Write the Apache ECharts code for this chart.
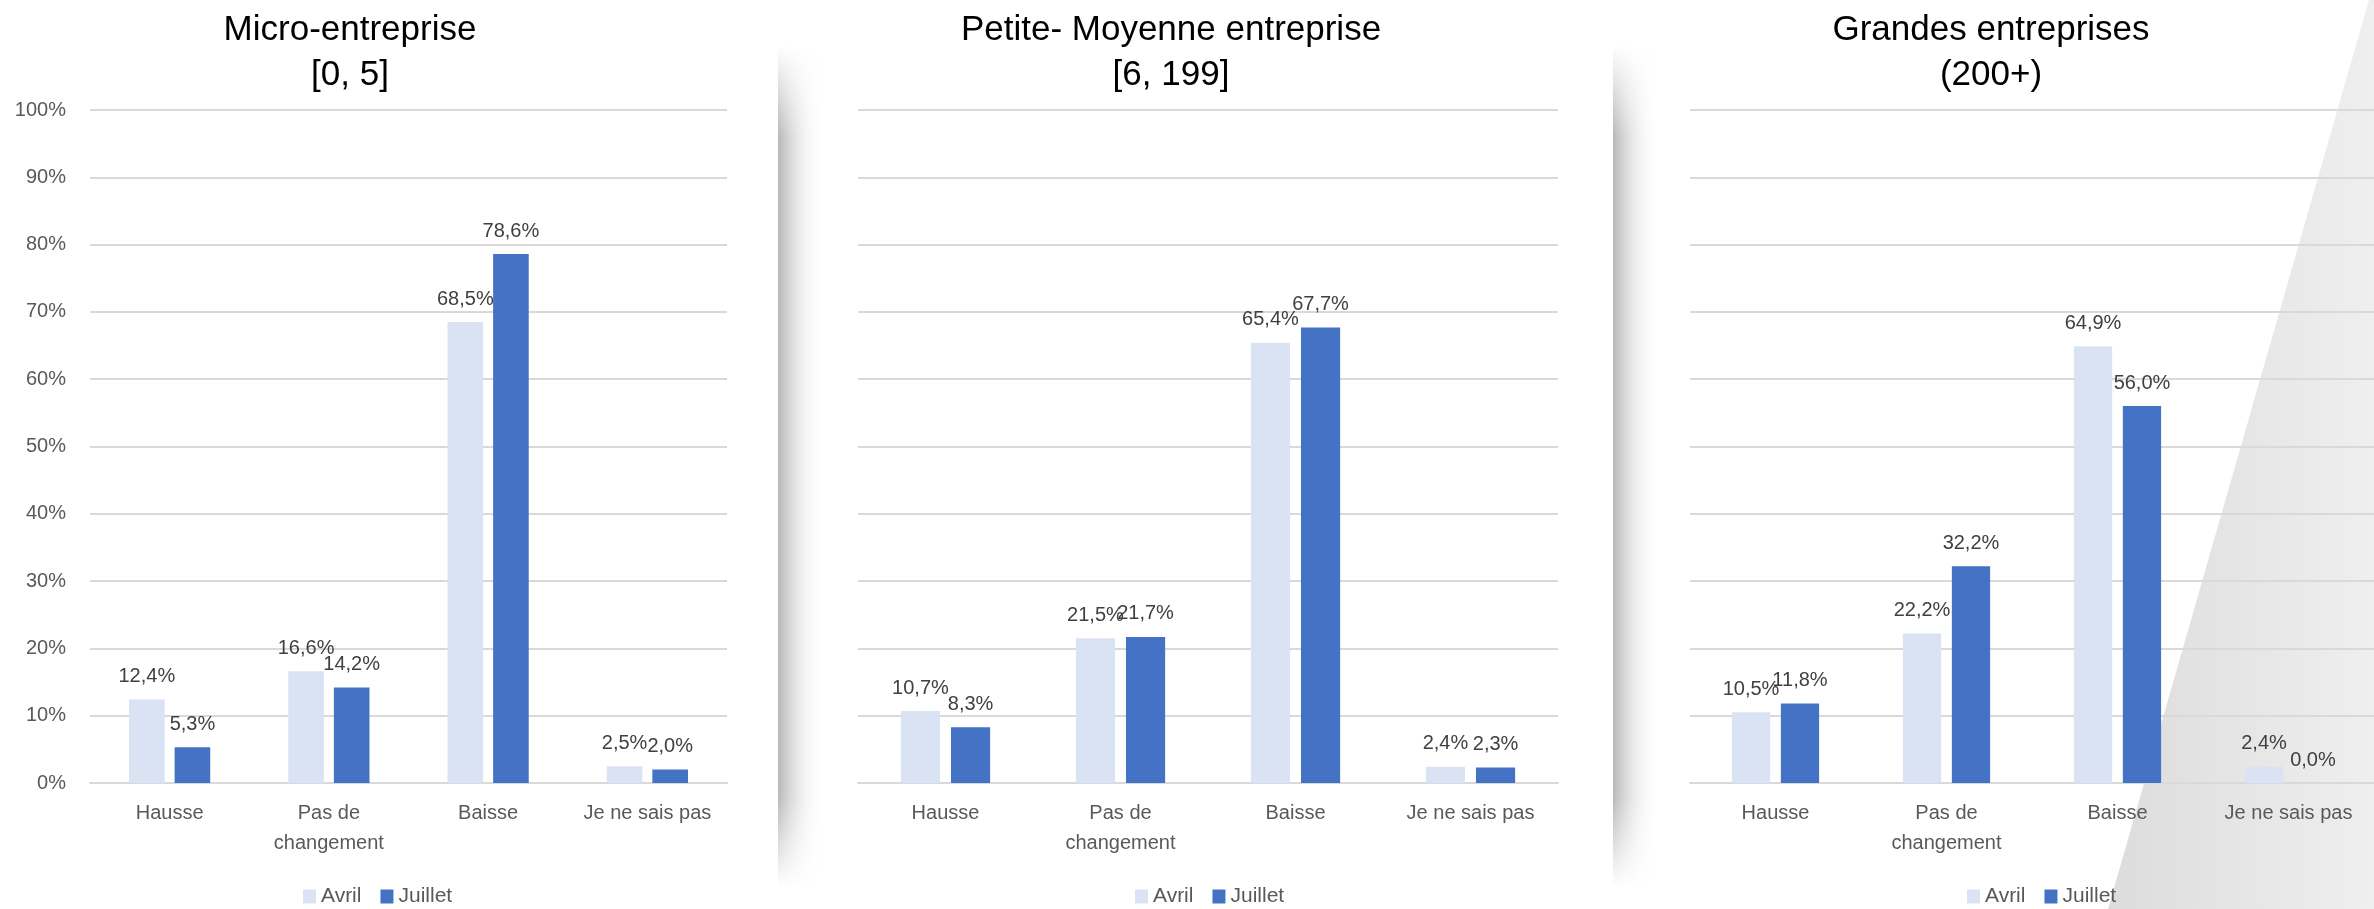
<!DOCTYPE html>
<html>
<head>
<meta charset="utf-8">
<script src="https://cdn.jsdelivr.net/npm/echarts@6/dist/echarts.min.js"></script>
<style>
html,body{margin:0;padding:0;background:#fff;}
#chart{width:2374px;height:909px;}
</style>
</head>
<body>
<div id="chart"></div>
<script>
// ---- data ----
const categories = ['Hausse', 'Pas de changement', 'Baisse', 'Je ne sais pas'];
const seriesNames = ['Avril', 'Juillet'];
const panelTitles = ['Micro-entreprise\n[0, 5]', 'Petite- Moyenne entreprise\n[6, 199]', 'Grandes entreprises\n(200+)'];
const yTicks = [0, 10, 20, 30, 40, 50, 60, 70, 80, 90, 100];
const microAvril = [12.4, 16.6, 68.5, 2.5];
const microJuillet = [5.3, 14.2, 78.6, 2.0];
const pmeAvril = [10.7, 21.5, 65.4, 2.4];
const pmeJuillet = [8.3, 21.7, 67.7, 2.3];
const grandesAvril = [10.5, 22.2, 64.9, 2.4];
const grandesJuillet = [11.8, 32.2, 56.0, 0.0];

const panelData = [
  [microAvril, microJuillet],
  [pmeAvril, pmeJuillet],
  [grandesAvril, grandesJuillet]
];

// ---- layout / style ----
const FONT = 'Liberation Sans, Arial, sans-serif';
const colors = ['#DAE3F3', '#4472C4'];
const grids = [
  {left: 90, width: 637, top: 110, height: 673},
  {left: 858, width: 700, top: 110, height: 673},
  {left: 1690, width: 700, top: 110, height: 673}
];
const titleCenters = [350, 1171, 1991];
const legendLefts = [303, 1135, 1967];

const fmt = v => v.toFixed(1).replace('.', ',') + '%';

const xAxes = grids.map((g, i) => ({
  type: 'category', gridIndex: i, data: categories,
  axisLine: {show: true, lineStyle: {color: '#D9D9D9', width: 2}},
  axisTick: {show: false},
  axisLabel: {
    color: '#595959', fontSize: 20, fontFamily: FONT, margin: 15, lineHeight: 30,
    interval: 0,
    formatter: v => v.replace('Pas de ', 'Pas de\n')
  }
}));
const yAxes = grids.map((g, i) => ({
  type: 'value', gridIndex: i, min: yTicks[0], max: yTicks[yTicks.length - 1], interval: yTicks[1] - yTicks[0],
  axisLine: {show: false}, axisTick: {show: false},
  splitLine: {show: true, lineStyle: {color: '#D9D9D9', width: 2}},
  axisLabel: {show: i === 0, color: '#595959', fontSize: 20, fontFamily: FONT, margin: 24, formatter: '{value}%'}
}));

const series = [];
panelData.forEach((pair, i) => {
  pair.forEach((vals, s) => {
    series.push({
      name: seriesNames[s], type: 'bar', xAxisIndex: i, yAxisIndex: i,
      data: vals,
      barGap: '28%', barCategoryGap: '49%',
      itemStyle: {color: colors[s]},
      label: {
        show: true, position: 'top', distance: 13,
        color: '#404040', fontSize: 20, fontFamily: FONT,
        formatter: p => fmt(p.value)
      }
    });
  });
});

const legends = legendLefts.map(l => ({
  data: seriesNames, left: l, top: 886, padding: 0,
  itemWidth: 13, itemHeight: 14, itemGap: 19, icon: 'rect',
  textStyle: {color: '#595959', fontSize: 21, fontFamily: FONT, padding: [0, 0, 0, 0]}
}));

const shadowGrad = {
  type: 'linear', x: 0, y: 0, x2: 1, y2: 0,
  colorStops: [
    {offset: 0, color: 'rgba(180,180,180,0.95)'},
    {offset: 0.35, color: 'rgba(205,205,205,0.6)'},
    {offset: 1, color: 'rgba(255,255,255,0)'}
  ]
};
const fadeTop = {
  type: 'linear', x: 0, y: 0, x2: 0, y2: 1,
  colorStops: [{offset: 0, color: 'rgba(255,255,255,1)'}, {offset: 1, color: 'rgba(255,255,255,0)'}]
};
const fadeBottom = {
  type: 'linear', x: 0, y: 0, x2: 0, y2: 1,
  colorStops: [{offset: 0, color: 'rgba(255,255,255,0)'}, {offset: 1, color: 'rgba(255,255,255,1)'}]
};

const graphics = [];
[778, 1613].forEach(x => {
  graphics.push({type: 'rect', z: -10, silent: true, shape: {x: x, y: 46, width: 46, height: 841}, style: {fill: shadowGrad}});
  graphics.push({type: 'rect', z: -9, silent: true, shape: {x: x, y: 46, width: 46, height: 90}, style: {fill: fadeTop}});
  graphics.push({type: 'rect', z: -9, silent: true, shape: {x: x, y: 797, width: 46, height: 90}, style: {fill: fadeBottom}});
});
graphics.push({
  type: 'polygon', z: -10, silent: true,
  shape: {points: [[2369, 0], [2374, 0], [2374, 909], [2108, 909]]},
  style: {fill: {type: 'linear', x: 0, y: 0, x2: 1, y2: 0, colorStops: [
    {offset: 0, color: '#dcdcdc'}, {offset: 1, color: '#efefef'}
  ]}}
});
panelTitles.forEach((t, i) => {
  graphics.push({
    type: 'text', z: 10, x: titleCenters[i], y: 8,
    style: {text: t, textAlign: 'center', align: 'center', textVerticalAlign: 'top', verticalAlign: 'top',
      fontSize: 35, fontFamily: FONT, lineHeight: 45, fill: '#000000'}
  });
});

const chart = echarts.init(document.getElementById('chart'), null, {renderer: 'canvas'});
chart.setOption({
  backgroundColor: '#ffffff',
  animation: false,
  grid: grids,
  xAxis: xAxes,
  yAxis: yAxes,
  legend: legends,
  series: series,
  graphic: {elements: graphics}
});
</script>
</body>
</html>
